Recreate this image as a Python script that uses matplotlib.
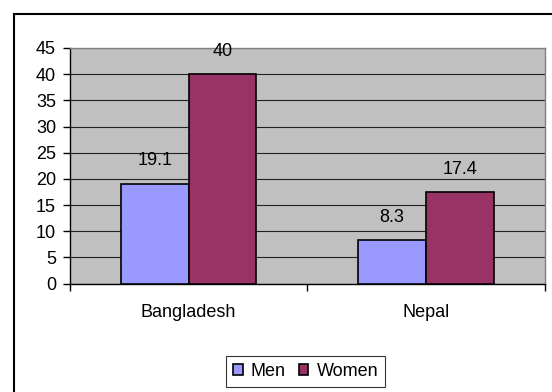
import matplotlib.pyplot as plt
from matplotlib.patches import Rectangle
import numpy as np

plt.rcParams['font.family'] = ['Liberation Sans', 'DejaVu Sans']

countries = ['Bangladesh', 'Nepal']
men = [19.1, 8.3]
women = [40, 17.4]
series_names = ['Men', 'Women']
yticks = [0, 5, 10, 15, 20, 25, 30, 35, 40, 45]

colors = ['#9999FF', '#993366']
W, H = 552, 392
fs = 13

fig = plt.figure(figsize=(W / 100, H / 100), dpi=100)

# outer chart frame (right/bottom sides run off the image)
fig.patches.append(Rectangle((13.5 / W, -0.05), 1.2, 1 - 13.5 / H + 0.05,
                             transform=fig.transFigure, fill=False,
                             edgecolor='black', linewidth=1.5))

ax = fig.add_axes([70 / W, 1 - 283.5 / H, (544.5 - 70) / W, (283.5 - 48) / H])
ax.set_facecolor('#C0C0C0')

x = np.arange(len(countries))
bw = 0.286
b1 = ax.bar(x - bw / 2, men, bw, color=colors[0], edgecolor='black',
            linewidth=1.2, label=series_names[0], zorder=3)
b2 = ax.bar(x + bw / 2, women, bw, color=colors[1], edgecolor='black',
            linewidth=1.2, label=series_names[1], zorder=3)

for bars, vals in ((b1, men), (b2, women)):
    for rect, v in zip(bars, vals):
        ax.annotate(f'{v:g}', (rect.get_x() + rect.get_width() / 2, v),
                    xytext=(0, 16.5), textcoords='offset points',
                    ha='center', va='center', fontsize=fs)

ax.set_xlim(-0.5, 1.5)
ax.set_ylim(0, 45)
ax.set_yticks(yticks)
ax.yaxis.grid(True, color='#222222', linewidth=0.8)
ax.set_axisbelow(True)

ax.set_xticks([-0.5, 0.5, 1.5])
ax.set_xticklabels([])
ax.set_xticks(x, minor=True)
ax.set_xticklabels(countries, minor=True, fontsize=fs)
ax.tick_params(axis='x', which='major', direction='out', length=5, width=1)
ax.tick_params(axis='x', which='minor', length=0, pad=15)
ax.tick_params(axis='y', direction='out', length=5, width=1, labelsize=fs, pad=5)

for s in ('left', 'bottom'):
    ax.spines[s].set_color('black')
    ax.spines[s].set_linewidth(1)
for s in ('top', 'right'):
    ax.spines[s].set_color('#808080')
    ax.spines[s].set_linewidth(1)

leg = fig.legend(loc='center', bbox_to_anchor=(305.5 / W, 1 - 371.5 / H),
                 ncol=2, frameon=True, fancybox=False, fontsize=fs,
                 handlelength=0.55, handleheight=0.55, handletextpad=0.45,
                 columnspacing=0.7, borderpad=0.4, edgecolor='black')
leg.get_frame().set_linewidth(0.8)
for h in leg.legend_handles:
    h.set_linewidth(1.2)

fig.savefig('out.png', dpi=100)
